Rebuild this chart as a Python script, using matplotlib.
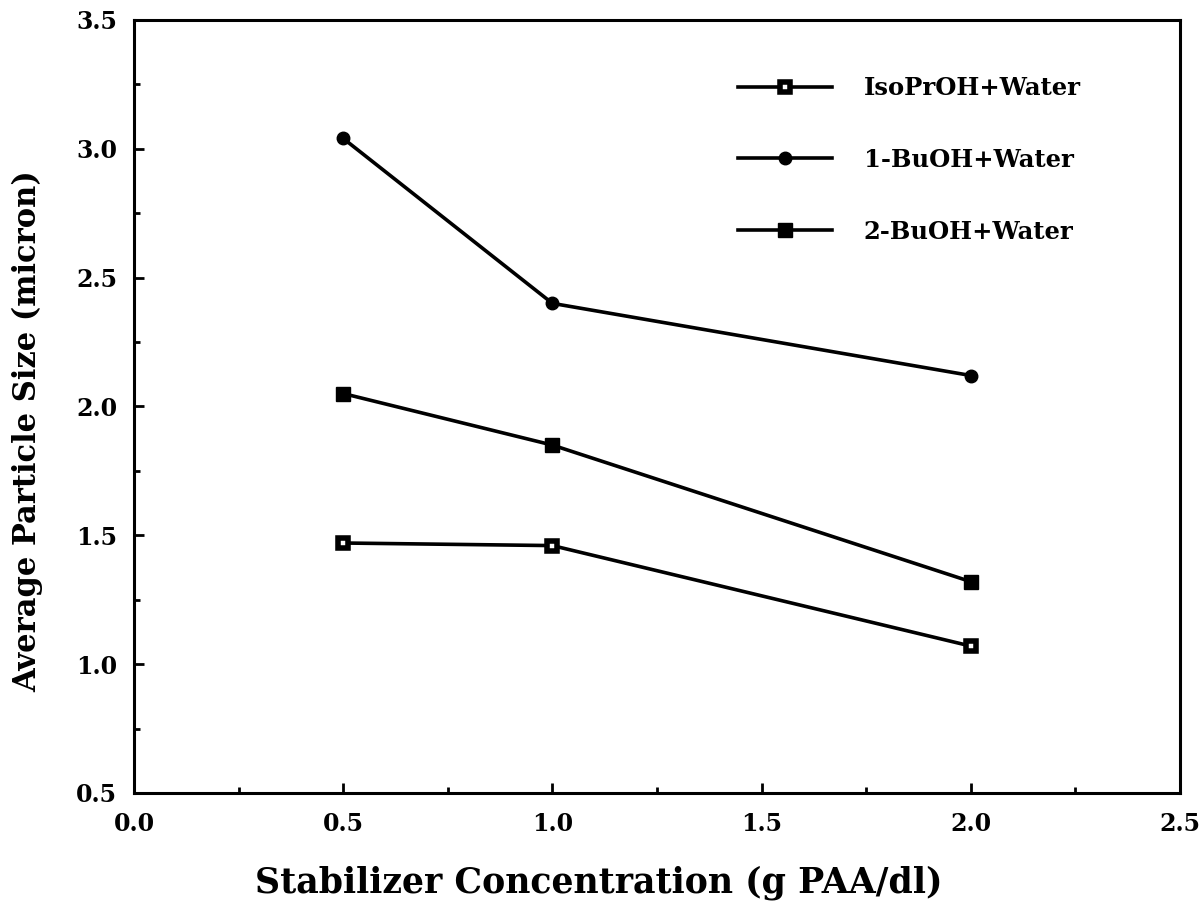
import matplotlib
matplotlib.use("Agg")
import matplotlib.pyplot as plt
from matplotlib.ticker import MultipleLocator, FormatStrFormatter

plt.rcParams['font.family'] = ['DejaVu Serif']
plt.rcParams['font.weight'] = 'bold'

# stabilizer concentration (g PAA/dl)
conc = [0.5, 1.0, 2.0]
# average particle size (micron)
isoproh = [1.47, 1.46, 1.07]
buoh1 = [3.04, 2.40, 2.12]
buoh2 = [2.05, 1.85, 1.32]

fig = plt.figure(figsize=(12, 9.05), dpi=100)
ax = fig.add_axes([0.1117, 0.1238, 0.8716, 0.8542])

ax.plot(conc, isoproh, color='black', lw=2.6, marker='s', ms=7,
        mfc='white', mec='black', mew=4, label='IsoPrOH+Water')
ax.plot(conc, buoh1, color='black', lw=2.6, marker='o', ms=9,
        label='1-BuOH+Water')
ax.plot(conc, buoh2, color='black', lw=2.6, marker='s', ms=10,
        label='2-BuOH+Water')

ax.set_xlim(0, 2.5)
ax.set_ylim(0.5, 3.5)
ax.xaxis.set_major_locator(MultipleLocator(0.5))
ax.xaxis.set_minor_locator(MultipleLocator(0.25))
ax.yaxis.set_major_locator(MultipleLocator(0.5))
ax.yaxis.set_minor_locator(MultipleLocator(0.25))
ax.xaxis.set_major_formatter(FormatStrFormatter('%.1f'))
ax.yaxis.set_major_formatter(FormatStrFormatter('%.1f'))

ax.tick_params(which='both', direction='in', width=2, labelsize=17)
ax.tick_params(axis='x', which='major', length=7, pad=14)
ax.tick_params(axis='y', which='major', length=7, pad=12)
ax.tick_params(which='minor', length=4)
for s in ax.spines.values():
    s.set_linewidth(2.2)

ax.set_xlabel('Stabilizer Concentration (g PAA/dl)', fontsize=25,
              fontweight='bold')
ax.set_ylabel('Average Particle Size (micron)', fontsize=22,
              fontweight='bold')
# the labels sit a bit off-centre in the original
ax.xaxis.set_label_coords(0.444, -0.094)
ax.yaxis.set_label_coords(-0.087, 0.468)

ax.legend(loc='upper left', bbox_to_anchor=(0.577, 0.927), frameon=False,
          borderaxespad=0, borderpad=0,
          fontsize=17.5, handlelength=3.9, handletextpad=1.3, labelspacing=1.96)

fig.savefig('out.png', dpi=100)
